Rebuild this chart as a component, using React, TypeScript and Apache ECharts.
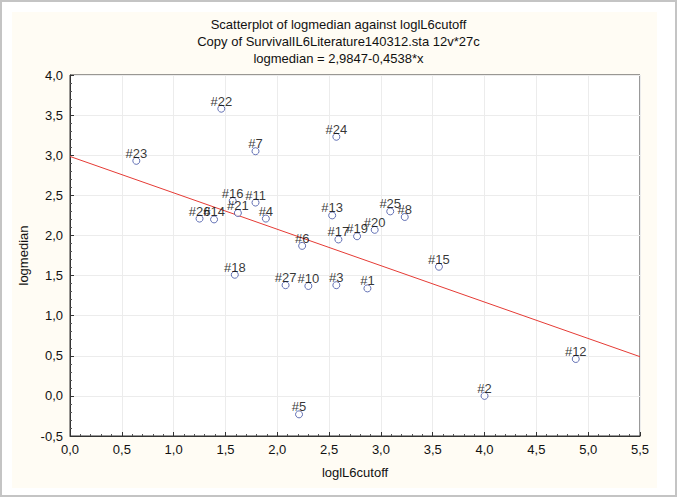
import React, { useEffect, useRef } from "react";
import * as echarts from "echarts";

const caseIds = [1, 2, 3, 4, 5, 6, 7, 8, 10, 11, 12, 13, 14, 15, 16, 17, 18, 19, 20, 21, 22, 23, 24, 25, 26, 27];
const logIL6cutoff = [2.87, 4.0, 2.57, 1.89, 2.21, 2.24, 1.79, 3.23, 2.3, 1.79, 4.88, 2.53, 1.39, 3.56, 1.57, 2.59, 1.59, 2.77, 2.94, 1.62, 1.46, 0.64, 2.57, 3.09, 1.25, 2.08];
const logmedian = [1.34, 0.0, 1.38, 2.21, -0.23, 1.87, 3.05, 2.23, 1.37, 2.41, 0.46, 2.25, 2.2, 1.61, 2.43, 1.95, 1.51, 1.99, 2.07, 2.28, 3.58, 2.93, 3.23, 2.3, 2.21, 1.38];
const intercept = 2.9847;
const slope = -0.4538;
const titleLines = [
  "Scatterplot of logmedian against loglL6cutoff",
  "Copy of SurvivalIL6Literature140312.sta 12v*27c",
  "logmedian = 2,9847-0,4538*x",
];
const xMin = 0;
const xMax = 5.5;
const yMin = -0.5;
const yMax = 4;
const tickStep = 0.5;

const FONT = "'Liberation Sans', Arial, sans-serif";
const fmt = (v: number) => v.toFixed(1).replace(".", ",");

export default function App() {
  const ref = useRef<HTMLDivElement>(null);
  useEffect(() => {
    if (!ref.current) return;
    const chart = echarts.init(ref.current, undefined, { renderer: "svg" });
    const points = caseIds.map((id, i) => ({ value: [logIL6cutoff[i], logmedian[i]], name: "#" + id }));
    const axisCommon = {
      type: "value",
      interval: tickStep,
      nameLocation: "middle",
      nameTextStyle: { fontSize: 13, color: "#111", fontFamily: FONT },
      axisLine: { show: true, onZero: false, lineStyle: { color: "#333" } },
      axisTick: { show: true, inside: true, length: 4, lineStyle: { color: "#333" } },
      minorTick: { show: true, splitNumber: 5, length: 2, lineStyle: { color: "#555" } },
      splitLine: { show: true, lineStyle: { color: "#ececec" } },
      axisLabel: { formatter: fmt, fontSize: 13, color: "#111", margin: 7, fontFamily: FONT },
    };
    chart.setOption({
      animation: false,
      backgroundColor: "#ffffff",
      textStyle: { fontFamily: FONT },
      title: {
        text: titleLines.join("\n"),
        left: "center",
        top: 11,
        textStyle: { fontSize: 13, fontWeight: "normal", color: "#111", lineHeight: 17, fontFamily: FONT },
      },
      graphic: [
        { type: "rect", z: -10, shape: { x: 1, y: 1, width: 675, height: 495 }, style: { fill: "#ffffff", stroke: "#c4c4c4", lineWidth: 2 } },
        { type: "rect", z: -9, shape: { x: 12, y: 12, width: 645, height: 476 }, style: { fill: "#fffcf4" } },
      ],
      grid: {
        left: 70,
        top: 75,
        right: 37,
        bottom: 61,
        show: true,
        backgroundColor: "#ffffff",
        borderColor: "#333",
        borderWidth: 1,
      },
      xAxis: { ...axisCommon, min: xMin, max: xMax, name: "loglL6cutoff", nameGap: 30 },
      yAxis: { ...axisCommon, min: yMin, max: yMax, name: "logmedian", nameGap: 36 },
      series: [
        {
          type: "line",
          data: [
            [xMin, intercept + slope * xMin],
            [xMax, intercept + slope * xMax],
          ],
          symbol: "none",
          silent: true,
          lineStyle: { color: "#e53b35", width: 1 },
          z: 1,
        },
        {
          type: "scatter",
          data: points,
          symbol: "circle",
          symbolSize: 7,
          itemStyle: { color: "#ffffff", borderColor: "#3d4fa3", borderWidth: 1 },
          label: {
            show: true,
            position: "top",
            distance: -3,
            formatter: (p: any) => p.name,
            fontSize: 13,
            color: "#000",
            fontFamily: FONT,
          },
          labelLayout: { hideOverlap: false },
          z: 3,
        },
      ],
    });
    return () => chart.dispose();
  }, []);
  return <div ref={ref} style={{ position: "fixed", left: 0, top: 0, width: 677, height: 497 }} />;
}
